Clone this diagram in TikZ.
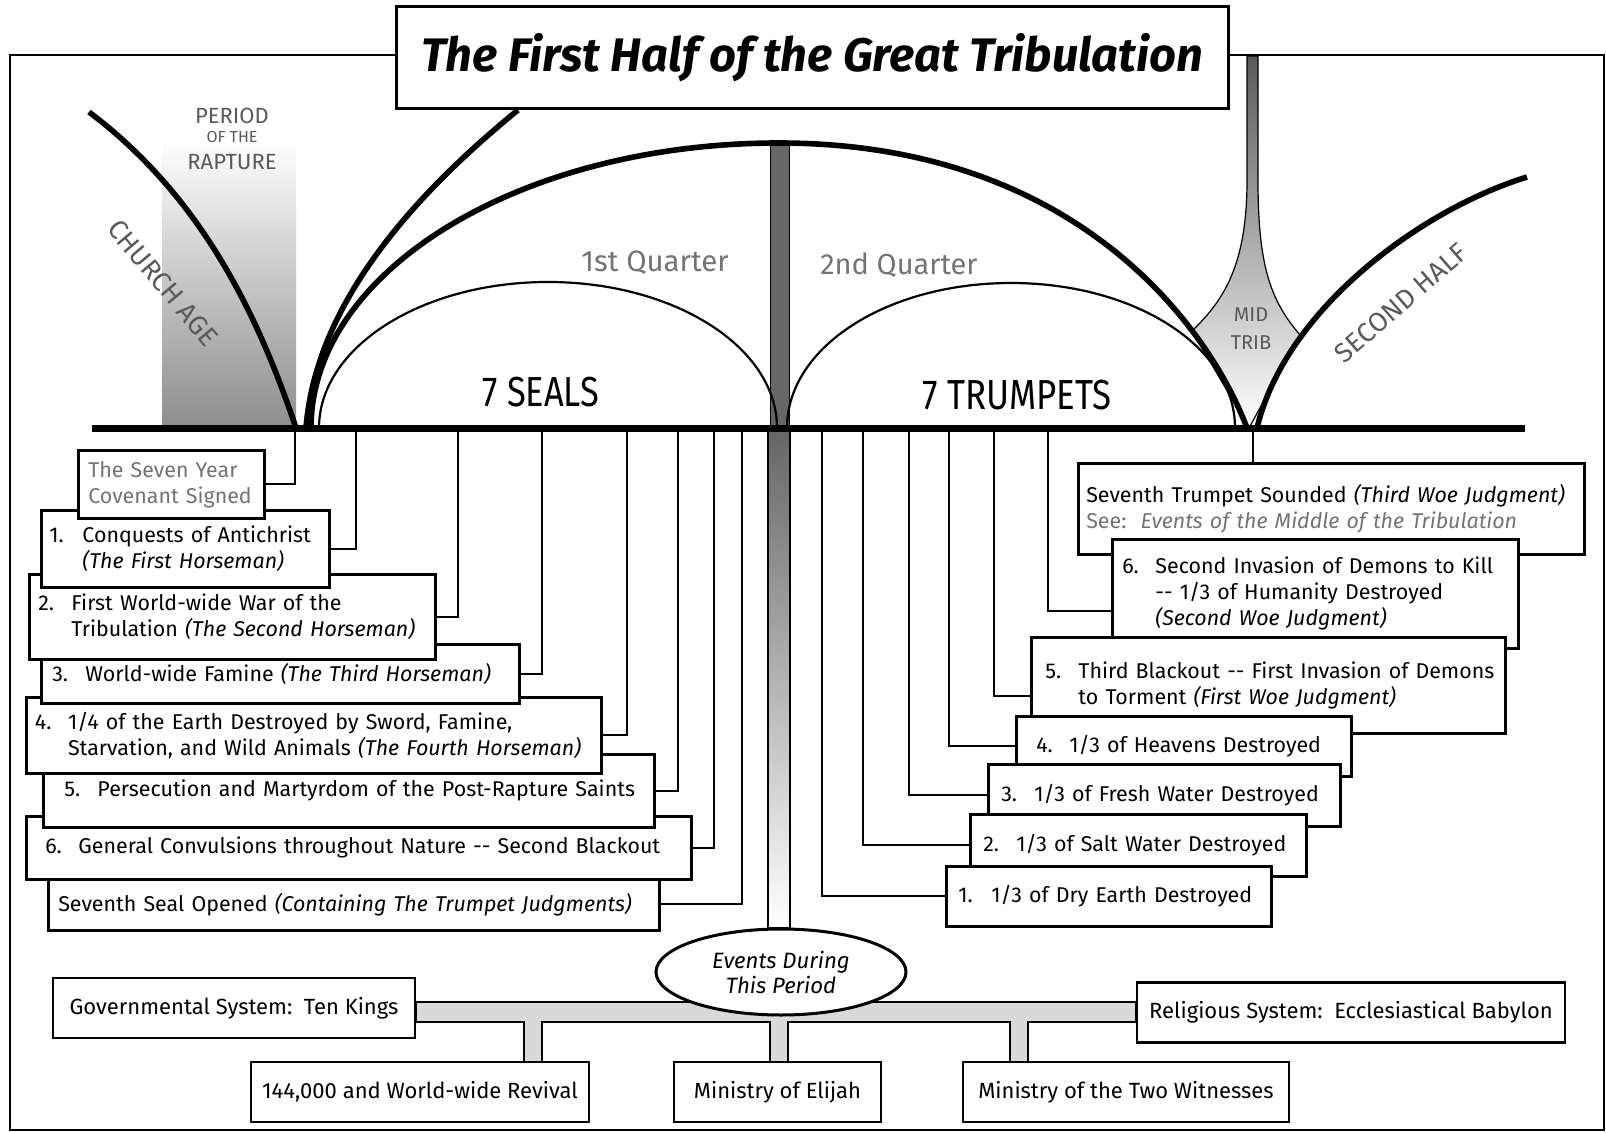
\documentclass[tikz,border=0pt]{standalone}
\usepackage{fontspec}
\setmainfont{Fira Sans}
\usetikzlibrary{shapes.geometric}
\definecolor{softgray}{gray}{0.45}
\definecolor{labelgray}{gray}{0.35}
\newcommand{\evnum}[1]{\makebox[1.55em][l]{#1}}
\newcommand{\evind}{\hspace*{1.55em}}

\begin{document}
\begin{tikzpicture}[x=0.5pt,y=-0.5pt,
  heavy/.style={line width=2.8pt},
  inner arc/.style={line width=1.1pt},
  conn/.style={line width=0.9pt},
  pad/.style={execute at begin node={\leftskip=#1}},
  evt/.style={draw,fill=white,line width=1.3pt,anchor=north west,
    align=left,inner xsep=2pt,inner ysep=2pt,
    font=\fontsize{10.7}{13}\selectfont},
  sysbox/.style={draw,fill=white,line width=1.3pt,minimum height=30pt,
    font=\fontsize{11}{13}\selectfont},
  faint/.style={text=softgray}]

  \useasboundingbox (0,0) rectangle (1606,1133);
  \draw[line width=1.2pt] (10,55) rectangle (1604,1130);

  % period of the rapture
  \shade[top color=white,bottom color=black!45] (162,140) rectangle (296,429);
  \draw[heavy] (89,112) .. controls (199,195) and (256,309) .. (296,428);

  % mid trib funnel
  \shadedraw[top color=black!65,bottom color=white,line width=0.6pt]
    (1247,56) -- (1247,180) .. controls (1247,265) and (1224,300) .. (1192,331)
    -- (1249,428) -- (1300,335) .. controls (1270,300) and (1258,265) .. (1258,180)
    -- (1258,56) -- cycle;

  % centre bar
  \draw[fill=black!60,line width=0.5pt] (770,143) rectangle (789,429);

  \draw[inner arc] (319,428) .. controls (319,347) and (422,282) .. (548,282)
    .. controls (674,282) and (777,347) .. (777,428);
  \draw[inner arc] (787,428) .. controls (787,347) and (887,283) .. (1011,283)
    .. controls (1135,283) and (1235,347) .. (1235,428);
  \draw[heavy] (311,428) .. controls (311,271) and (520,143) .. (779,143)
    .. controls (1079,143) and (1210,330) .. (1247,428);
  \draw[heavy] (306,428) .. controls (316,300) and (420,190) .. (518,110);
  \draw[heavy] (1257,428) .. controls (1285,310) and (1420,210) .. (1527,177);
  \draw[line width=3.5pt] (92,429) -- (1525,429);

  \node[draw,fill=white,line width=1.5pt,minimum width=416pt,minimum height=51pt,
    font=\fontsize{23.5}{27}\selectfont\bfseries\itshape] (title) at (812,58)
    {The First Half of the Great Tribulation};

  % labels
  \node[text=labelgray,font=\fontsize{11}{12}\selectfont] (period) at (232,116) {PERIOD};
  \node[text=labelgray,font=\fontsize{8}{10}\selectfont] (ofthe) at (232,137) {OF THE};
  \node[text=labelgray,font=\fontsize{11}{12}\selectfont] (rapture) at (232,162) {RAPTURE};
  \node[text=labelgray,rotate=-50,inner sep=0pt,font=\fontsize{13.5}{15}\selectfont] (church) at (163,283) {CHURCH AGE};
  \node[text=labelgray,rotate=41,inner sep=0pt,font=\fontsize{13.5}{15}\selectfont] (second) at (1401,303) {SECOND HALF};
  \node[text=labelgray,align=center,inner sep=0pt,font=\fontsize{10}{14}\selectfont] (mid) at (1251,329) {MID\\TRIB};
  \node[faint,font=\fontsize{14.7}{16}\selectfont] (q1) at (655,263) {1st Quarter};
  \node[faint,font=\fontsize{14.5}{16}\selectfont] (q2) at (899,265) {2nd Quarter};
  \node[font=\fontsize{21}{25}\selectfont] (seals) at (541,392) {\scalebox{0.82}[1]{7 SEALS}};
  \node[font=\fontsize{21}{25}\selectfont] (trumpets) at (1017,395) {\scalebox{0.83}[1]{7 TRUMPETS}};

  % seven seals
  \node[evt,pad=3pt,text width=301.5pt,minimum height=26pt] (seal7) at (47,877)
    {Seventh Seal Opened \textit{(Containing The Trumpet Judgments)}};
  \node[evt,pad=7.5pt,text width=328.5pt,minimum height=31.5pt] (seal6) at (25,815)
    {\evnum{6.}General Convulsions throughout Nature -{}- Second Blackout};
  \node[evt,pad=8.5pt,text width=301.5pt,minimum height=36.5pt] (seal5) at (42,753)
    {\evnum{5.}Persecution and Martyrdom of the Post-Rapture Saints};
  \node[evt,pad=2.3pt,text width=283.5pt,minimum height=38pt] (seal4) at (25,696)
    {\evnum{4.}1/4 of the Earth Destroyed by Sword, Famine,\\
     \evind Starvation, and Wild Animals \textit{(The Fourth Horseman)}};
  \node[evt,pad=3.5pt,text width=235pt,minimum height=29.5pt] (seal3) at (40,643)
    {\evnum{3.}World-wide Famine \textit{(The Third Horseman)}};
  \node[evt,pad=2.5pt,text width=199pt,minimum height=42.5pt] (seal2) at (28,573)
    {\evnum{2.}First World-wide War of the\\
     \evind Tribulation \textit{(The Second Horseman)}};
  \node[evt,pad=2pt,text width=140pt,minimum height=38.5pt] (seal1) at (40,509)
    {\evnum{1.}Conquests of Antichrist\\ \evind\textit{(The First Horseman)}};
  \node[evt,faint,pad=3pt,text width=89pt,minimum height=34pt] (covenant) at (77,449)
    {The Seven Year\\Covenant Signed};

  % seven trumpets
  \node[evt,pad=2pt,text width=249pt,minimum height=45.5pt] (trump7) at (1077,462)
    {Seventh Trumpet Sounded \textit{(Third Woe Judgment)}\\
     {\color{softgray}See:\ \ \textit{Events of the Middle of the Tribulation}}};
  \node[evt,pad=3pt,text width=199pt,minimum height=54.5pt] (trump6) at (1111,538)
    {\evnum{6.}Second Invasion of Demons to Kill\\
     \evind -{}- 1/3 of Humanity Destroyed\\ \evind\textit{(Second Woe Judgment)}};
  \node[evt,pad=5pt,text width=233pt,minimum height=48pt] (trump5) at (1030,636)
    {\evnum{5.}Third Blackout -{}- First Invasion of Demons\\
     \evind to Torment \textit{(First Woe Judgment)}};
  \node[evt,pad=8pt,text width=163.5pt,minimum height=30pt] (trump4) at (1015,715)
    {\evnum{4.}1/3 of Heavens Destroyed};
  \node[evt,pad=4.5pt,text width=172pt,minimum height=31pt] (trump3) at (987,763)
    {\evnum{3.}1/3 of Fresh Water Destroyed};
  \node[evt,pad=4.5pt,text width=164pt,minimum height=31pt] (trump2) at (969,813)
    {\evnum{2.}1/3 of Salt Water Destroyed};
  \node[evt,pad=4pt,text width=158.5pt,minimum height=30pt] (trump1) at (945,865)
    {\evnum{1.}1/3 of Dry Earth Destroyed};

  % drop lines from the time line
  \coordinate (cv) at (295,429);
  \coordinate (sl1) at (356,429);
  \coordinate (sl2) at (458,429);
  \coordinate (sl3) at (542,429);
  \coordinate (sl4) at (627,429);
  \coordinate (sl5) at (678,429);
  \coordinate (sl6) at (714,429);
  \coordinate (sl7) at (742,429);
  \coordinate (tr1) at (822,429);
  \coordinate (tr2) at (863,429);
  \coordinate (tr3) at (909,429);
  \coordinate (tr4) at (949,429);
  \coordinate (tr5) at (994,429);
  \coordinate (tr6) at (1048,429);
  \coordinate (tr7) at (1253,429);

  \draw[conn] (cv) |- (covenant.east);
  \draw[conn] (sl1) |- (seal1.east);
  \draw[conn] (sl2) |- (seal2.east);
  \draw[conn] (sl3) |- (seal3.east);
  \draw[conn] (sl4) |- (seal4.east);
  \draw[conn] (sl5) |- (seal5.east);
  \draw[conn] (sl6) |- (seal6.east);
  \draw[conn] (sl7) |- (seal7.east);
  \draw[conn] (tr1) |- (trump1.west);
  \draw[conn] (tr2) |- (trump2.west);
  \draw[conn] (tr3) |- (trump3.west);
  \draw[conn] (tr4) |- (trump4.west);
  \draw[conn] (tr5) |- ([yshift=-5.5pt]trump5.west);
  \draw[conn] (tr6) |- ([yshift=-8.75pt]trump6.west);
  \draw[conn] (tr7) -- (tr7 |- trump7.north);

  % events during this period
  \node[sysbox,minimum width=181pt] (gov) at (234,1008) {Governmental System:\ \ Ten Kings};
  \node[sysbox,minimum width=214pt] (rel) at (1351,1012.5) {Religious System:\ \ Ecclesiastical Babylon};
  \node[sysbox,minimum width=169pt] (revival) at (420,1092) {144,000 and World-wide Revival};
  \node[sysbox,minimum width=103.5pt] (elijah) at (777.5,1092) {Ministry of Elijah};
  \node[sysbox,minimum width=163pt] (witness) at (1126,1092) {Ministry of the Two Witnesses};

  \coordinate (bt) at (0,1002);
  \coordinate (bb) at (0,1022);
  \draw[fill=black!15,line width=0.8pt] (gov.east |- bt) -- (rel.west |- bt) -- (rel.west |- bb)
    -- (1028,1022) -- (1028,1062) -- (1010,1062) -- (1010,1022)
    -- (788,1022) -- (788,1062) -- (770,1062) -- (770,1022)
    -- (542,1022) -- (542,1062) -- (524,1062) -- (524,1022)
    -- (gov.east |- bb) -- cycle;

  \node[draw,ellipse,fill=white,line width=1.5pt,minimum width=125pt,minimum height=43pt,
    align=center,font=\fontsize{11.1}{12.5}\selectfont\itshape] (events) at (781,972)
    {Events During\\This Period};

  \coordinate (cbar) at (790,0);
  \draw[top color=black!60,bottom color=white,line width=0.8pt]
    (768,431) rectangle (events.north -| cbar);

\end{tikzpicture}
\end{document}
